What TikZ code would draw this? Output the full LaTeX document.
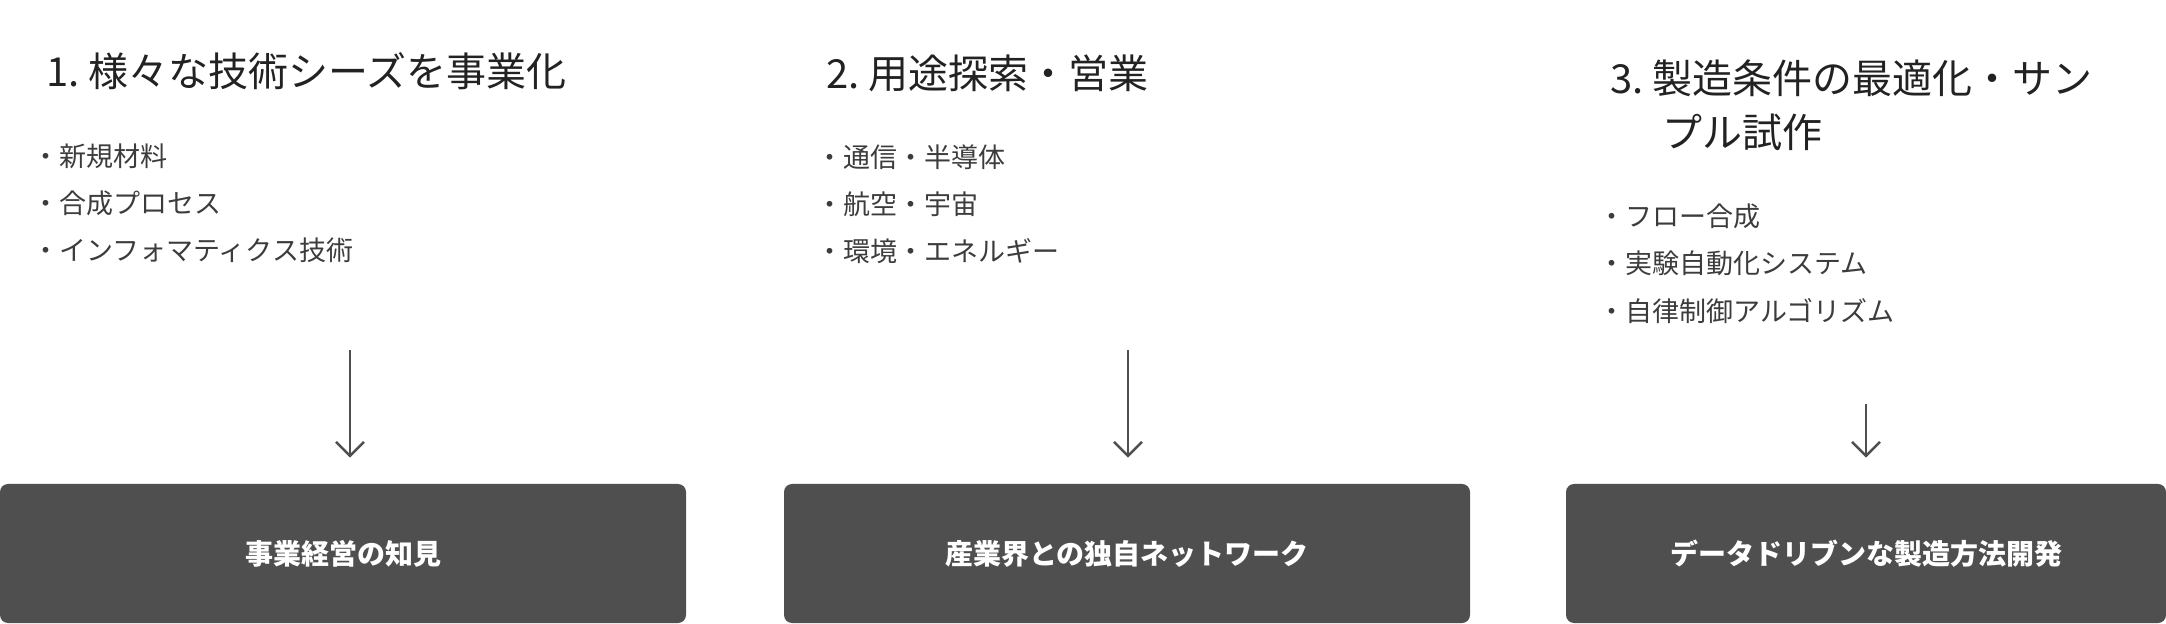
\documentclass[tikz,border=0pt]{standalone}
\usepackage{fontspec}
\setmainfont{Noto Sans CJK JP}
\usetikzlibrary{arrows.meta}
\definecolor{boxgray}{HTML}{4F4F4F}
\definecolor{titlegray}{HTML}{222222}
\definecolor{itemgray}{HTML}{3C3C3C}

\begin{document}
\begin{tikzpicture}[x=0.5pt,y=-0.5pt,>={Straight Barb[length=7pt,width=14pt]},
		title/.style={anchor=base west,inner sep=0pt,text=titlegray,font=\fontsize{20}{24}\selectfont},
		item/.style={anchor=base west,inner sep=0pt,text=itemgray,font=\fontsize{13.5}{16}\selectfont},
		card/.style={fill=boxgray,rounded corners=4pt,minimum height=69.5pt,inner sep=0pt,text=white,font=\fontsize{14}{16}\selectfont\bfseries},
		flow/.style={->,line width=1.25pt,boxgray,shorten >=13pt}]
		\useasboundingbox (0,0) rectangle (2166,624);

		% column 1
		\node[title] (t1) at (46,87) {1.~様々な技術シーズを事業化};
		\foreach \txt [count=\k] in {新規材料,合成プロセス,インフォマティクス技術}
			\node[item] (i1\k) at (32,{120+47*\k}) {・\txt};
		\node[card,minimum width=343pt] (b1) at (343,553.5) {事業経営の知見};
		\coordinate (a1) at (350,350);
		\draw[flow] (a1) -- (a1 |- b1.north);

		% column 2
		\node[title] (t2) at (826,89) {2.~用途探索・営業};
		\foreach \txt [count=\k] in {通信・半導体,航空・宇宙,環境・エネルギー}
			\node[item] (i2\k) at (816,{121+47*\k}) {・\txt};
		\node[card,minimum width=343pt] (b2) at (1127,553.5) {産業界との独自ネットワーク};
		\coordinate (a2) at (1128,350);
		\draw[flow] (a2) -- (a2 |- b2.north);

		% column 3
		\node[title] (t3) at (1610,94) {3.~製造条件の最適化・サン};
		\node[title] (t3b) at (1662,148) {プル試作};
		\foreach \txt [count=\k] in {フロー合成,実験自動化システム,自律制御アルゴリズム}
			\node[item] (i3\k) at (1598,{179+47.5*\k}) {・\txt};
		\node[card,minimum width=300pt] (b3) at (1866,553.5) {データドリブンな製造方法開発};
		\coordinate (a3) at (1866,404);
		\draw[flow] (a3) -- (a3 |- b3.north);

	\end{tikzpicture}
\end{document}
